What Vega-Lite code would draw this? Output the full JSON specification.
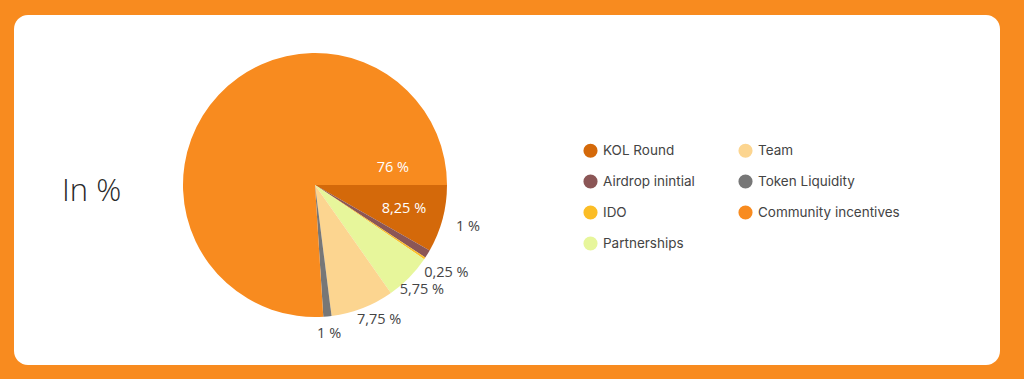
{
  "$schema": "https://vega.github.io/schema/vega-lite/v6.json",
  "width": 986,
  "height": 350,
  "autosize": {"type": "none"},
  "padding": {"left": 14, "top": 15, "right": 24, "bottom": 14},
  "background": "#F88B1F",
  "view": {"fill": "#FFFFFF", "stroke": null, "cornerRadius": 14},
  "title": {
    "text": "In %",
    "anchor": "start",
    "frame": "group",
    "orient": "top",
    "baseline": "alphabetic",
    "dx": 48,
    "dy": 221,
    "font": "Open Sans",
    "fontSize": 31,
    "fontWeight": 300,
    "color": "#2A2A2A"
  },
  "data": {
    "values": [
      {"category": "KOL Round", "pct": 8.25, "label": "8,25 %", "idx": 1},
      {"category": "Airdrop inintial", "pct": 1, "label": "1 %", "idx": 2},
      {"category": "IDO", "pct": 0.25, "label": "0,25 %", "idx": 3},
      {"category": "Partnerships", "pct": 5.75, "label": "5,75 %", "idx": 4},
      {"category": "Team", "pct": 7.75, "label": "7,75 %", "idx": 5},
      {"category": "Token Liquidity", "pct": 1, "label": "1 %", "idx": 6},
      {"category": "Community incentives", "pct": 76, "label": "76 %", "idx": 7}
    ]
  },
  "encoding": {
    "theta": {"field": "pct", "type": "quantitative", "stack": true, "scale": {"range": [1.5708, 7.854]}},
    "order": {"field": "idx", "type": "quantitative"}
  },
  "layer": [
    {
      "mark": {"type": "arc", "x": 301, "y": 170, "outerRadius": 132, "stroke": null},
      "encoding": {
        "color": {
          "field": "category",
          "type": "nominal",
          "scale": {
            "domain": ["KOL Round", "Airdrop inintial", "IDO", "Partnerships", "Team", "Token Liquidity", "Community incentives"],
            "range": ["#D4690A", "#8B5656", "#FBBD26", "#E7F69B", "#FCD590", "#777777", "#F88B1F"]
          },
          "legend": {
            "title": null,
            "orient": "none",
            "legendX": 569,
            "legendY": 128,
            "columns": 2,
            "columnPadding": 43,
            "rowPadding": 16,
            "symbolType": "circle",
            "symbolSize": 200,
            "symbolStrokeWidth": 0,
            "labelFont": "Inter",
            "labelFontSize": 13.5,
            "labelColor": "#444444",
            "labelOffset": 5
          }
        }
      }
    },
    {
      "mark": {
        "type": "text",
        "x": 301,
        "y": 170,
        "font": "Open Sans",
        "fontSize": 14.5,
        "radius": {"expr": "datum.category === 'IDO' ? 158 : datum.pct > 8 ? 92 : 150"},
        "dx": {"expr": "datum.category === 'Airdrop inintial' ? 25 : datum.category === 'Community incentives' ? 145 : datum.category === 'Team' ? 10 : 0"},
        "dy": {"expr": "datum.category === 'Airdrop inintial' ? -36 : datum.category === 'Community incentives' ? 46 : datum.category === 'Team' ? -5 : 0"}
      },
      "encoding": {
        "text": {"field": "label"},
        "color": {"condition": {"test": "datum.pct > 8", "value": "#FFFFFF"}, "value": "#444444"}
      }
    }
  ]
}
